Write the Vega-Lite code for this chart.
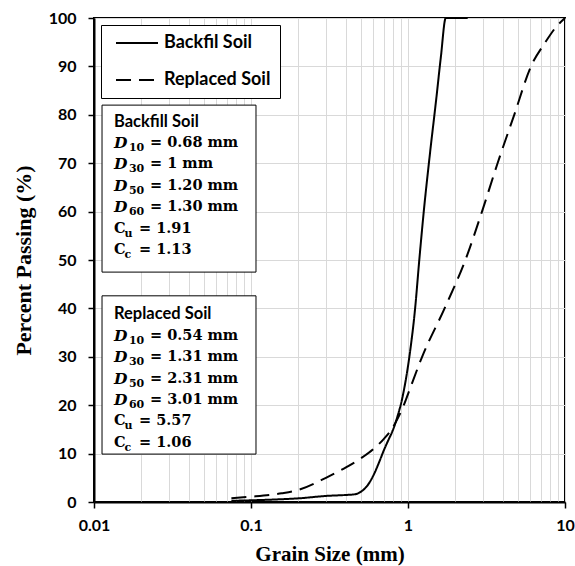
{
  "$schema": "https://vega.github.io/schema/vega-lite/v6.json",
  "width": 471,
  "height": 484,
  "autosize": "none",
  "padding": {"left": 94, "top": 18, "right": 10, "bottom": 64},
  "background": "white",
  "config": {
    "view": {"stroke": "black", "strokeWidth": 2},
    "font": "Lato"
  },
  "datasets": {
    "curves": [
      {"series": "Backfil Soil", "size": 0.075, "passing": 0.25},
      {"series": "Backfil Soil", "size": 0.1, "passing": 0.35},
      {"series": "Backfil Soil", "size": 0.15, "passing": 0.55},
      {"series": "Backfil Soil", "size": 0.2, "passing": 0.75},
      {"series": "Backfil Soil", "size": 0.3, "passing": 1.25},
      {"series": "Backfil Soil", "size": 0.4, "passing": 1.45},
      {"series": "Backfil Soil", "size": 0.46, "passing": 1.6},
      {"series": "Backfil Soil", "size": 0.5, "passing": 2.1},
      {"series": "Backfil Soil", "size": 0.56, "passing": 3.7},
      {"series": "Backfil Soil", "size": 0.6, "passing": 5.4},
      {"series": "Backfil Soil", "size": 0.66, "passing": 8.5},
      {"series": "Backfil Soil", "size": 0.7, "passing": 10.6},
      {"series": "Backfil Soil", "size": 0.75, "passing": 12.8},
      {"series": "Backfil Soil", "size": 0.8, "passing": 14.8},
      {"series": "Backfil Soil", "size": 0.85, "passing": 17.3},
      {"series": "Backfil Soil", "size": 0.92, "passing": 21.5},
      {"series": "Backfil Soil", "size": 1.02, "passing": 30},
      {"series": "Backfil Soil", "size": 1.11, "passing": 40},
      {"series": "Backfil Soil", "size": 1.18, "passing": 50},
      {"series": "Backfil Soil", "size": 1.26, "passing": 60},
      {"series": "Backfil Soil", "size": 1.38, "passing": 72},
      {"series": "Backfil Soil", "size": 1.51, "passing": 83},
      {"series": "Backfil Soil", "size": 1.62, "passing": 92},
      {"series": "Backfil Soil", "size": 1.74, "passing": 100},
      {"series": "Backfil Soil", "size": 2.4, "passing": 100},
      {"series": "Replaced Soil", "size": 0.075, "passing": 0.8},
      {"series": "Replaced Soil", "size": 0.1, "passing": 1.1},
      {"series": "Replaced Soil", "size": 0.157, "passing": 1.8},
      {"series": "Replaced Soil", "size": 0.2, "passing": 2.5},
      {"series": "Replaced Soil", "size": 0.3, "passing": 5.0},
      {"series": "Replaced Soil", "size": 0.4, "passing": 7.1},
      {"series": "Replaced Soil", "size": 0.5, "passing": 9.0},
      {"series": "Replaced Soil", "size": 0.6, "passing": 10.9},
      {"series": "Replaced Soil", "size": 0.7, "passing": 13},
      {"series": "Replaced Soil", "size": 0.8, "passing": 15.4},
      {"series": "Replaced Soil", "size": 0.87, "passing": 17.6},
      {"series": "Replaced Soil", "size": 0.94, "passing": 20},
      {"series": "Replaced Soil", "size": 1.0, "passing": 22.3},
      {"series": "Replaced Soil", "size": 1.23, "passing": 30},
      {"series": "Replaced Soil", "size": 1.71, "passing": 40},
      {"series": "Replaced Soil", "size": 2.32, "passing": 50},
      {"series": "Replaced Soil", "size": 2.96, "passing": 60},
      {"series": "Replaced Soil", "size": 3.72, "passing": 70},
      {"series": "Replaced Soil", "size": 4.75, "passing": 80},
      {"series": "Replaced Soil", "size": 6.07, "passing": 90},
      {"series": "Replaced Soil", "size": 7.5, "passing": 95},
      {"series": "Replaced Soil", "size": 8.7, "passing": 98},
      {"series": "Replaced Soil", "size": 10, "passing": 100}
    ],
    "params": [
      {"box": "Backfill Soil", "line": 1, "sym": "D", "sub": "10", "rest": "= 0.68 mm"},
      {"box": "Backfill Soil", "line": 2, "sym": "D", "sub": "30", "rest": "= 1 mm"},
      {"box": "Backfill Soil", "line": 3, "sym": "D", "sub": "50", "rest": "= 1.20 mm"},
      {"box": "Backfill Soil", "line": 4, "sym": "D", "sub": "60", "rest": "= 1.30 mm"},
      {"box": "Backfill Soil", "line": 5, "sym": "C", "sub": "u", "rest": "= 1.91"},
      {"box": "Backfill Soil", "line": 6, "sym": "C", "sub": "c", "rest": "= 1.13"},
      {"box": "Replaced Soil", "line": 1, "sym": "D", "sub": "10", "rest": "= 0.54 mm"},
      {"box": "Replaced Soil", "line": 2, "sym": "D", "sub": "30", "rest": "= 1.31 mm"},
      {"box": "Replaced Soil", "line": 3, "sym": "D", "sub": "50", "rest": "= 2.31 mm"},
      {"box": "Replaced Soil", "line": 4, "sym": "D", "sub": "60", "rest": "= 3.01 mm"},
      {"box": "Replaced Soil", "line": 5, "sym": "C", "sub": "u", "rest": "= 5.57"},
      {"box": "Replaced Soil", "line": 6, "sym": "C", "sub": "c", "rest": "= 1.06"}
    ],
    "boxes": [
      {"box": "Backfill Soil"},
      {"box": "Replaced Soil"}
    ]
  },
  "layer": [
    {
      "data": {"name": "curves"},
      "mark": {"type": "line", "color": "black", "strokeWidth": 2, "interpolate": "monotone"},
      "encoding": {
        "x": {
          "field": "size", "type": "quantitative",
          "scale": {"type": "log", "domain": [0.01, 10]},
          "title": "Grain Size (mm)",
          "axis": {
            "values": [0.01, 0.02, 0.03, 0.04, 0.05, 0.06, 0.07, 0.08, 0.09, 0.1, 0.2, 0.3, 0.4, 0.5, 0.6, 0.7, 0.8, 0.9, 1, 2, 3, 4, 5, 6, 7, 8, 9, 10],
            "labelExpr": "indexof([0.01, 0.1, 1, 10], datum.value) >= 0 ? format(datum.value, '~g') : ''",
            "tickOpacity": {"condition": {"test": "indexof([0.01, 0.1, 1, 10], datum.value) >= 0", "value": 1}, "value": 0},
            "grid": true, "gridColor": "#d9d9d9", "gridWidth": 1,
            "domainColor": "black", "domainWidth": 2,
            "tickColor": "black", "tickSize": 6, "tickWidth": 1.5,
            "labelFont": "Lato", "labelFontWeight": "bold", "labelFontSize": 16, "labelColor": "black",
            "labelPadding": 9, "labelFlush": false, "labelOverlap": false,
            "titleFont": "Liberation Serif", "titleFontSize": 21, "titleFontWeight": "bold", "titleColor": "black",
            "titlePadding": 10
          }
        },
        "y": {
          "field": "passing", "type": "quantitative",
          "scale": {"domain": [0, 100], "nice": false},
          "title": "Percent Passing (%)",
          "axis": {
            "values": [0, 10, 20, 30, 40, 50, 60, 70, 80, 90, 100],
            "grid": true, "gridColor": "#d9d9d9", "gridWidth": 1,
            "domainColor": "black", "domainWidth": 2,
            "tickColor": "black", "tickSize": 6, "tickWidth": 1.5,
            "labelFont": "Lato", "labelFontWeight": "bold", "labelFontSize": 16, "labelColor": "black",
            "labelPadding": 12, "labelFlush": false,
            "titleFont": "Liberation Serif", "titleFontSize": 22, "titleFontWeight": "bold", "titleColor": "black",
            "titlePadding": 13
          }
        },
        "strokeDash": {
          "field": "series", "type": "nominal",
          "scale": {"domain": ["Backfil Soil", "Replaced Soil"], "range": [[1, 0], [15, 8]]},
          "legend": {
            "title": null,
            "orient": "top-left",
            "offset": 7,
            "fillColor": "white",
            "strokeColor": "black",
            "padding": 9,
            "symbolType": "stroke",
            "symbolSize": 1764,
            "symbolStrokeWidth": 2,
            "symbolStrokeColor": "black",
            "clipHeight": 18,
            "rowPadding": 19,
            "symbolOffset": 5,
            "labelOffset": 5,
            "labelFont": "Lato",
            "labelFontSize": 18,
            "labelFontWeight": "bold",
            "labelColor": "black"
          }
        }
      }
    },
    {
      "data": {"name": "boxes"},
      "transform": [
        {"calculate": "datum.box == 'Backfill Soil' ? 82.0 : 42.6", "as": "top"},
        {"calculate": "datum.box == 'Backfill Soil' ? 47.5 : 9.9", "as": "bottom"}
      ],
      "mark": {"type": "rect", "fill": "white", "stroke": "black", "strokeWidth": 1},
      "encoding": {
        "x": {"datum": 0.01125, "type": "quantitative", "title": "Grain Size (mm)"},
        "x2": {"datum": 0.1076},
        "y": {"field": "top", "type": "quantitative", "title": "Percent Passing (%)"},
        "y2": {"field": "bottom"}
      }
    },
    {
      "data": {"name": "boxes"},
      "transform": [
        {"calculate": "datum.box == 'Backfill Soil' ? 78.6 : 38.8", "as": "ty"}
      ],
      "mark": {"type": "text", "align": "left", "baseline": "middle", "font": "Lato", "fontWeight": "bold", "fontSize": 16.5, "color": "black"},
      "encoding": {
        "x": {"datum": 0.0134, "type": "quantitative", "title": "Grain Size (mm)"},
        "y": {"field": "ty", "type": "quantitative", "title": "Percent Passing (%)"},
        "text": {"field": "box"}
      }
    },
    {
      "data": {"name": "params"},
      "transform": [
        {"calculate": "(datum.box == 'Backfill Soil' ? 78.6 : 38.8) - 4.43 * datum.line", "as": "ty"},
        {"filter": "datum.sym == 'D'"}
      ],
      "layer": [
        {
          "mark": {"type": "text", "align": "left", "baseline": "middle", "font": "DejaVu Serif", "fontWeight": "bold", "fontStyle": "italic", "fontSize": 15.5, "color": "black"},
          "encoding": {"text": {"field": "sym"}}
        },
        {
          "mark": {"type": "text", "align": "left", "baseline": "middle", "font": "DejaVu Serif", "fontWeight": "bold", "fontSize": 11, "color": "black", "dx": 15, "dy": 5},
          "encoding": {"text": {"field": "sub"}}
        },
        {
          "mark": {"type": "text", "align": "left", "baseline": "middle", "font": "DejaVu Serif", "fontWeight": "bold", "fontSize": 14.5, "color": "black", "dx": 36},
          "encoding": {"text": {"field": "rest"}}
        }
      ],
      "encoding": {
        "x": {"datum": 0.0134, "type": "quantitative", "title": "Grain Size (mm)"},
        "y": {"field": "ty", "type": "quantitative", "title": "Percent Passing (%)"}
      }
    },
    {
      "data": {"name": "params"},
      "transform": [
        {"calculate": "(datum.box == 'Backfill Soil' ? 78.6 : 38.8) - 4.43 * datum.line", "as": "ty"},
        {"filter": "datum.sym == 'C'"}
      ],
      "layer": [
        {
          "mark": {"type": "text", "align": "left", "baseline": "middle", "font": "DejaVu Serif", "fontWeight": "bold", "fontSize": 14.5, "color": "black"},
          "encoding": {"text": {"field": "sym"}}
        },
        {
          "mark": {"type": "text", "align": "left", "baseline": "middle", "font": "DejaVu Serif", "fontWeight": "bold", "fontSize": 11, "color": "black", "dx": 10.5, "dy": 5},
          "encoding": {"text": {"field": "sub"}}
        },
        {
          "mark": {"type": "text", "align": "left", "baseline": "middle", "font": "DejaVu Serif", "fontWeight": "bold", "fontSize": 14.5, "color": "black", "dx": 25},
          "encoding": {"text": {"field": "rest"}}
        }
      ],
      "encoding": {
        "x": {"datum": 0.0134, "type": "quantitative", "title": "Grain Size (mm)"},
        "y": {"field": "ty", "type": "quantitative", "title": "Percent Passing (%)"}
      }
    }
  ]
}
